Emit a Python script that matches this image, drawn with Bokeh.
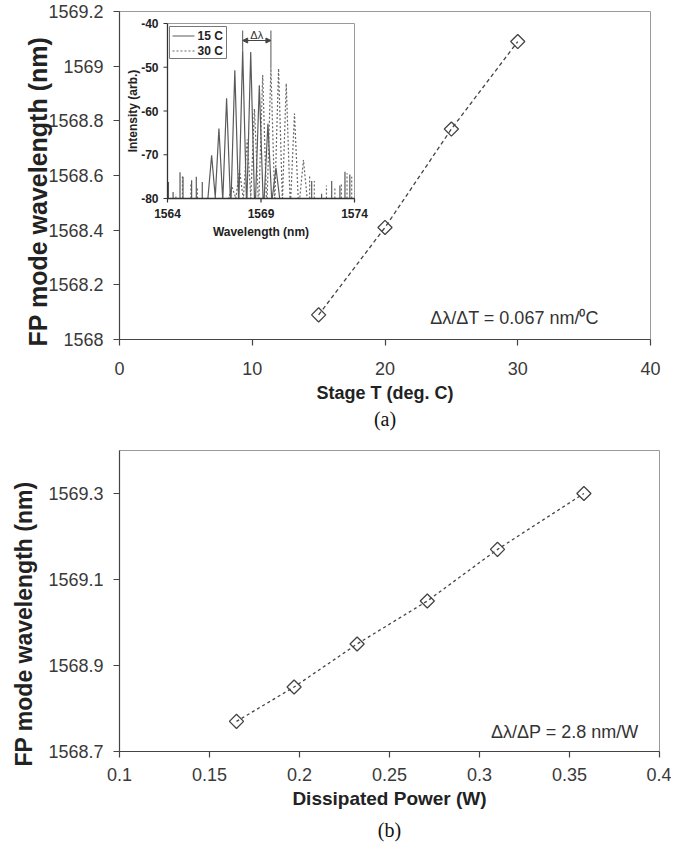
import math
from bokeh.plotting import figure
from bokeh.models import (Range1d, FixedTicker, Title, Label, Arrow, NormalHead,
                          CustomJSTickFormatter)
from bokeh.layouts import column
from bokeh.embed import file_html
from bokeh.resources import INLINE
from bokeh.core.properties import value

# ---------------- data ----------------
stage_t = [15, 20, 25, 30]
fp_wl_a = [1568.09, 1568.41, 1568.77, 1569.09]
power_w = [0.165, 0.197, 0.232, 0.271, 0.310, 0.358]
fp_wl_b = [1568.77, 1568.85, 1568.95, 1569.05, 1569.17, 1569.30]

a_xticks = [0, 10, 20, 30, 40]
a_yticks = [1568, 1568.2, 1568.4, 1568.6, 1568.8, 1569, 1569.2]
b_xticks = [0.1, 0.15, 0.2, 0.25, 0.3, 0.35, 0.4]
b_yticks = [1568.7, 1568.9, 1569.1, 1569.3]
inset_xticks = [1564, 1569, 1574]
inset_yticks = [-40, -50, -60, -70, -80]

# inset spectra (wavelength nm, intensity dB)
peak15_nm = [1566.36, 1566.75, 1567.16, 1567.60, 1568.02, 1568.45, 1568.91, 1569.37, 1569.80]
peak15_db = [-70.1, -64.0, -57.1, -50.7, -46.1, -46.5, -54.1, -62.9, -73.0]
spike15_nm = [1564.05, 1564.30, 1564.67, 1564.83, 1565.29, 1565.54, 1565.86,
              1571.71, 1572.24, 1572.78, 1573.22, 1573.49, 1573.75]
spike15_db = [-76.2, -78.5, -74.0, -75.0, -75.8, -75.0, -76.2,
              -76.0, -78.9, -76.0, -77.0, -73.9, -74.5]
peak30_nm = [1567.46, 1567.85, 1568.26, 1568.65, 1569.09, 1569.53, 1569.94, 1570.35, 1570.79, 1571.27]
peak30_db = [-77.5, -73.5, -66.5, -59.5, -51.8, -50.3, -50.3, -53.7, -60.6, -71.2]
spike30_nm = [1564.45, 1564.80, 1565.25, 1565.60, 1571.60, 1571.85, 1572.50, 1572.95,
              1573.30, 1573.60, 1573.85]
spike30_db = [-79.0, -74.7, -76.5, -77.5, -74.5, -76.0, -77.0, -77.5, -76.5, -74.2, -75.0]
legend_labels = ["15 C", "30 C"]

FONT = "Liberation Sans"
TICK_COLOR = "#3a3a3a"
AX_COLOR = "#444444"
fmt = CustomJSTickFormatter(code="return String(tick)")


def style_axes(p, xticks, yticks):
    p.xgrid.visible = False
    p.ygrid.visible = False
    p.outline_line_color = "#9a9a9a"
    p.outline_line_width = 1
    p.xaxis.ticker = FixedTicker(ticks=xticks)
    p.yaxis.ticker = FixedTicker(ticks=yticks)
    for ax in (p.xaxis[0], p.yaxis[0]):
        ax.formatter = fmt
        ax.axis_line_color = AX_COLOR
        ax.axis_line_width = 1.2
        ax.major_tick_line_color = AX_COLOR
        ax.major_tick_line_width = 1.2
        ax.major_tick_out = 6
        ax.major_tick_in = 0
        ax.minor_tick_line_color = None
        ax.major_label_text_font = FONT
        ax.major_label_text_font_size = "18px"
        ax.major_label_text_color = TICK_COLOR
        ax.axis_label_text_font = FONT
        ax.axis_label_text_font_style = "bold"
        ax.axis_label_text_color = "#222222"
    p.xaxis.axis_label_text_font_size = "18px"
    p.yaxis.major_label_orientation = "horizontal"


def y_title(p, size, offset, standoff):
    p.add_layout(Title(text="FP mode wavelength (nm)", align="left", offset=offset,
                       standoff=standoff, text_font=FONT, text_font_style="bold",
                       text_font_size=size, text_color="#222222"), "left")


# ---------------- figure (a) ----------------
p1 = figure(frame_width=531, frame_height=328, x_range=Range1d(0, 40),
            y_range=Range1d(1568, 1569.2), output_backend="svg", toolbar_location=None,
            min_border_left=119, min_border_right=18, min_border_top=11, min_border_bottom=100,
            background_fill_color="white", border_fill_color="white")
style_axes(p1, a_xticks, a_yticks)
p1.xaxis.axis_label = "Stage T (deg. C)"
p1.xaxis.major_label_standoff = 16
p1.yaxis.major_label_standoff = 10
p1.xaxis.axis_label_standoff = 5
y_title(p1, "25px", -7, -12)

p1.scatter(stage_t, fp_wl_a, marker="square", angle=math.pi / 4, size=10,
           fill_color="white", line_color="#444444", line_width=1.3)
p1.line(stage_t, fp_wl_a, line_dash="4 3", line_color="#444444", line_width=1.3)

p1.add_layout(Label(x=29.75, y=1568.078, text="\u0394\u03bb/\u0394T = 0.067 nm/\u2070C",
                    text_align="center", text_baseline="middle", text_font=FONT,
                    text_font_size="18px", text_color="#333333"))
p1.add_layout(Title(text="(a)", align="center", text_font="Liberation Serif",
                    text_font_size="20px", text_font_style="normal", text_color="#111111",
                    standoff=0),
              "below")

# ---- inset drawn in extra ranges mapped onto a sub-rectangle of the frame ----
FR_X0, FR_X1, FR_Y0, FR_Y1 = 120.0, 651.0, 13.0, 341.0      # page px of main frame
IN_X0, IN_X1, IN_Y0, IN_Y1 = 168.0, 355.0, 25.0, 200.0      # page px of inset frame
xmin_i, xmax_i = inset_xticks[0], inset_xticks[-1]
ymax_i, ymin_i = inset_yticks[0], inset_yticks[-1]
sx = (xmax_i - xmin_i) / (IN_X1 - IN_X0)
sy = (ymax_i - ymin_i) / (IN_Y1 - IN_Y0)
p1.extra_x_ranges = {"ix": Range1d(xmin_i - (IN_X0 - FR_X0) * sx, xmin_i + (FR_X1 - IN_X0) * sx)}
p1.extra_y_ranges = {"iy": Range1d(ymin_i - (FR_Y1 - IN_Y1) * sy, ymax_i + (IN_Y0 - FR_Y0) * sy)}


def ix(px):
    return xmin_i + (px - IN_X0) * sx


def iy(py):
    return ymax_i - (py - IN_Y0) * sy


R = dict(x_range_name="ix", y_range_name="iy")

# border
p1.segment(x0=[xmin_i, xmax_i], y0=[ymax_i, ymax_i], x1=[xmax_i, xmax_i], y1=[ymax_i, ymin_i],
           line_color="#9a9a9a", line_width=1, **R)


def peak_line(centers, heights, hw):
    xs, ys = [xmin_i], [ymin_i]
    for c, h in zip(centers, heights):
        xs += [c - hw, c, c + hw]
        ys += [ymin_i, h, ymin_i]
    xs.append(xmax_i)
    ys.append(ymin_i)
    return xs, ys


xs15, ys15 = peak_line(peak15_nm, peak15_db, 0.2)
xs30, ys30 = peak_line(peak30_nm, peak30_db, 0.2)
p1.line(xs30, ys30, line_color="#6a6a6a", line_width=1.2, line_dash="2 2", **R)
p1.segment(x0=spike30_nm, y0=[ymin_i] * len(spike30_nm), x1=spike30_nm, y1=spike30_db,
           line_color="#6a6a6a", line_width=1.2, line_dash="2 2", **R)
p1.line(xs15, ys15, line_color="#5a5a5a", line_width=1.2, **R)
p1.segment(x0=spike15_nm, y0=[ymin_i] * len(spike15_nm), x1=spike15_nm, y1=spike15_db,
           line_color="#5a5a5a", line_width=1.2, **R)

# axes of inset
p1.segment(x0=[xmin_i, xmin_i], y0=[ymax_i, ymin_i], x1=[xmin_i, xmax_i], y1=[ymin_i, ymin_i],
           line_color="#333333", line_width=1.3, **R)
tk = 4 * sx
p1.segment(x0=[xmin_i - tk] * len(inset_yticks), y0=inset_yticks, x1=[xmin_i] * len(inset_yticks),
           y1=inset_yticks, line_color="#333333", line_width=1.2, **R)
tky = 4 * sy
p1.segment(x0=inset_xticks, y0=[ymin_i] * 3, x1=inset_xticks, y1=[ymin_i - tky] * 3,
           line_color="#333333", line_width=1.2, **R)
p1.text(x=[xmin_i] * len(inset_yticks), y=inset_yticks, text=[str(v) for v in inset_yticks],
        x_offset=-9, text_align="right", text_baseline="middle", text_font=value(FONT),
        text_font_size="12px", text_font_style="bold", text_color="#222222", **R)
p1.text(x=inset_xticks, y=[ymin_i] * 3, text=[str(v) for v in inset_xticks],
        y_offset=10, text_align="center", text_baseline="top", text_font=value(FONT),
        text_font_size="12px", text_font_style="bold", text_color="#222222", **R)
p1.text(x=[(xmin_i + xmax_i) / 2], y=[ymin_i], text=["Wavelength (nm)"], y_offset=26,
        text_align="center", text_baseline="top", text_font=value(FONT),
        text_font_size="12px", text_font_style="bold", text_color="#222222", **R)
p1.text(x=[xmin_i], y=[(ymin_i + ymax_i) / 2], text=["Intensity (arb.)"], x_offset=-35,
        angle=math.pi / 2, text_align="center", text_baseline="middle", text_font=value(FONT),
        text_font_size="12px", text_font_style="bold", text_color="#222222", **R)

# inset legend
p1.quad(left=[ix(170)], right=[ix(227)], top=[iy(28)], bottom=[iy(60)],
        fill_color="white", line_color="#777777", line_width=1, **R)
p1.line([ix(173), ix(195)], [iy(37.5)] * 2, line_color="#5a5a5a", line_width=1.2, **R)
p1.line([ix(173), ix(195)], [iy(52.5)] * 2, line_color="#6a6a6a", line_width=1.2,
        line_dash="2 2", **R)
p1.text(x=[ix(198)] * 2, y=[iy(37.5), iy(52.5)], text=legend_labels, text_align="left",
        text_baseline="middle", text_font=value(FONT), text_font_size="12px",
        text_font_style="bold", text_color="#222222", **R)

# delta-lambda marker
xl, yl = peak15_nm[4], peak15_db[4]
xr, yr = peak30_nm[5], peak30_db[5]
ytop = iy(32)
p1.segment(x0=[xl, xr], y0=[yl, yr], x1=[xl, xr], y1=[ytop, ytop],
           line_color="#555555", line_width=1, **R)
p1.add_layout(Arrow(x_start=xl, y_start=iy(42), x_end=xr, y_end=iy(42),
                    start=NormalHead(size=5, fill_color="#444444", line_color="#444444"),
                    end=NormalHead(size=5, fill_color="#444444", line_color="#444444"),
                    line_color="#444444", line_width=1, **R))
p1.text(x=[(xl + xr) / 2], y=[iy(36)], text=["\u0394\u03bb"], text_align="center",
        text_baseline="middle", text_font=value(FONT), text_font_size="11px",
        text_color="#333333", **R)

# ---------------- figure (b) ----------------
p2 = figure(frame_width=540, frame_height=301, x_range=Range1d(0.1, 0.4),
            y_range=Range1d(1568.7, 1569.4), output_backend="svg", toolbar_location=None,
            min_border_left=117, min_border_right=12, min_border_top=11, min_border_bottom=93,
            background_fill_color="white", border_fill_color="white")
style_axes(p2, b_xticks, b_yticks)
p2.xaxis.axis_label = "Dissipated Power (W)"
p2.xaxis.axis_label_text_font_size = "19px"
p2.xaxis.major_label_standoff = 10
p2.yaxis.major_label_standoff = 10
p2.xaxis.axis_label_standoff = 4
y_title(p2, "23px", -15, 17)

p2.scatter(power_w, fp_wl_b, marker="square", angle=math.pi / 4, size=10,
           fill_color="white", line_color="#444444", line_width=1.3)
p2.line(power_w, fp_wl_b, line_dash="3 3", line_color="#444444", line_width=1.3)
p2.add_layout(Label(x=0.3474, y=1568.746, text="\u0394\u03bb/\u0394P = 2.8 nm/W",
                    text_align="center", text_baseline="middle", text_font=FONT,
                    text_font_size="18px", text_color="#333333"))
p2.add_layout(Title(text="(b)", align="center", text_font="Liberation Serif",
                    text_font_size="20px", text_font_style="normal", text_color="#111111"),
              "below")

layout = column(p1, p2, spacing=0)
open("out.html", "w").write(file_html(layout, INLINE))
